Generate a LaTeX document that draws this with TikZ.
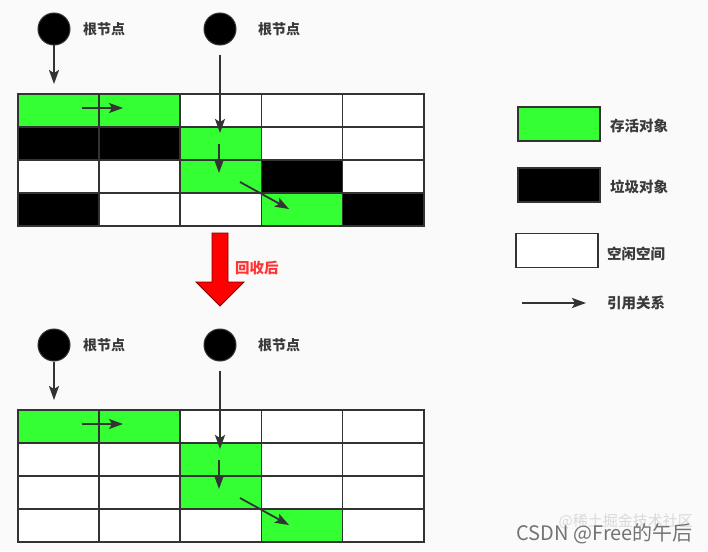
\documentclass[tikz,border=0pt]{standalone}
\usepackage{fontspec}
\setmainfont{Noto Sans CJK SC}
\usetikzlibrary{arrows.meta}
\definecolor{bg}{HTML}{FAFAFA}
\definecolor{line}{HTML}{333333}
\definecolor{txt}{HTML}{3A3A3A}
\definecolor{alive}{HTML}{33FF33}
\definecolor{dead}{HTML}{000000}
\definecolor{free}{HTML}{FFFFFF}
\definecolor{redarrow}{HTML}{FF0000}
\definecolor{redtxt}{HTML}{FF3333}

% un tas : nom, decalage vertical, couleurs des lignes
\newcommand{\drawheap}[3]{%
\begin{scope}[shift={(0,#2)}]
\foreach \cols [count=\r from 0] in {#3}
  \foreach \c [count=\k from 0] in \cols
    \node[cell,fill=\c] (#1-\r-\k) at (17+\k*81.2,93+\r*33) {};

\node[root] (#1-rootA) at (54,29) {};
\node[lbl] (#1-labelA) at (83,29) {根节点};
\node[root] (#1-rootB) at (220,29) {};
\node[lbl] (#1-labelB) at (258,29) {根节点};

\coordinate (#1-a) at (54,84);
\coordinate (#1-b0) at (220,55);
\coordinate (#1-b1) at (220,133);
\coordinate (#1-c0) at (82,108);
\coordinate (#1-c1) at (123,108);
\coordinate (#1-d0) at (219,144);
\coordinate (#1-d1) at (219,173);
\coordinate (#1-e0) at (240,182);
\coordinate (#1-e1) at (289,209);

\draw[ref] (#1-rootA) -- (#1-a);
\draw[ref] (#1-b0) -- (#1-b1);
\draw[ref] (#1-c0) -- (#1-c1);
\draw[ref] (#1-d0) -- (#1-d1);
\draw[ref] (#1-e0) -- (#1-e1);
\end{scope}}

\begin{document}
\begin{tikzpicture}[x=1pt,y=-1pt,
  cell/.style={draw=line,line width=1.6pt,anchor=north west,minimum width=81.2pt,minimum height=33pt,inner sep=0pt},
  root/.style={circle,fill=black,draw=line,line width=1pt,minimum size=32pt,inner sep=0pt},
  ref/.style={draw=line,line width=1.8pt,-{Stealth[length=14pt,width=10pt,inset=3pt]}},
  lbl/.style={font=\bfseries\fontsize{14}{16}\selectfont,text=txt,anchor=west,inner sep=0pt},
  key/.style={draw=line,line width=1.6pt,minimum width=82pt,minimum height=34pt,inner sep=0pt}]

\fill[bg] (0,0) rectangle (708,551);
\useasboundingbox (0,0) rectangle (708,551);

\drawheap{top}{0}{{alive,alive,free,free,free},{dead,dead,alive,free,free},{free,free,alive,dead,free},{dead,free,free,alive,dead}}
\drawheap{bot}{316}{{alive,alive,free,free,free},{free,free,alive,free,free},{free,free,alive,free,free},{free,free,free,alive,free}}

% fleche rouge
\filldraw[fill=redarrow,draw=red!50!black,line width=0.8pt] (212,233) -- (228,233) -- (228,282) -- (244,282) -- (220,306) -- (196,282) -- (212,282) -- cycle;
\node[lbl,text=redtxt,font=\bfseries\fontsize{14.5}{16}\selectfont] (after) at (235,268) {回收后};

% legende
\node[key,fill=alive] (keyA) at (559,124) {};
\node[lbl,font=\bfseries\fontsize{14.5}{16}\selectfont] (keyAtxt) at (610,126) {存活对象};
\node[key,fill=dead] (keyB) at (559,185) {};
\node[lbl,font=\bfseries\fontsize{14.5}{16}\selectfont] (keyBtxt) at (610,187) {垃圾对象};
\node[key,fill=free] (keyC) at (557,250.5) {};
\node[lbl,font=\bfseries\fontsize{14.5}{16}\selectfont] (keyCtxt) at (607,254) {空闲空间};
\coordinate (keyD0) at (522,303);
\coordinate (keyD1) at (586,303);
\draw[ref] (keyD0) -- (keyD1);
\node[lbl,font=\bfseries\fontsize{14.5}{16}\selectfont] (keyDtxt) at (607,303) {引用关系};

% filigrane
\node[anchor=east,inner sep=0pt,text=black!15,font=\fontsize{15}{17}\selectfont] (mark2) at (693,521) {@稀土掘金技术社区};
\node[anchor=east,inner sep=0pt,text=black!55,font=\fontsize{20}{22}\selectfont] (mark) at (693,534) {CSDN @Free的午后};
\end{tikzpicture}
\end{document}
